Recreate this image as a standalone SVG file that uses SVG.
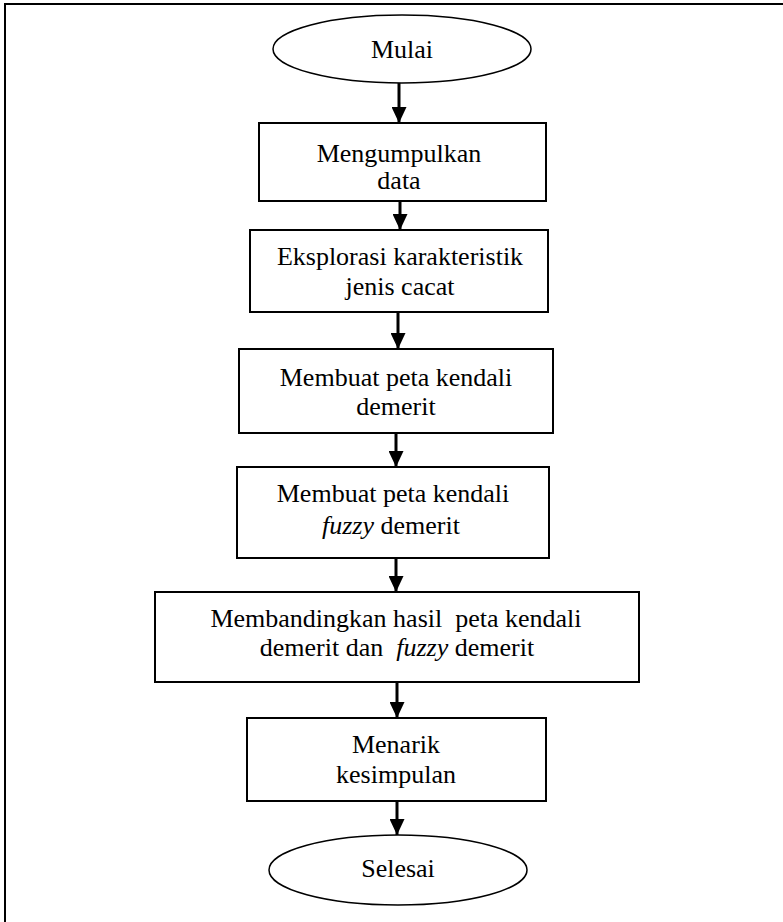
<svg xmlns="http://www.w3.org/2000/svg" width="783" height="922" viewBox="0 0 783 922">
<style>
.box{fill:#fff;stroke:#000;stroke-width:2}
.oval{fill:#fff;stroke:#000;stroke-width:1.5}
.t{font-family:'Liberation Serif','Times New Roman','DejaVu Serif',serif;font-size:26px;fill:#000;text-anchor:middle}
.i{font-style:italic}
.c{stroke:#000;stroke-width:3;fill:none}
</style>
<defs>
<marker id="ah" markerWidth="16" markerHeight="15" refX="16" refY="7.5" orient="auto" markerUnits="userSpaceOnUse">
<path d="M0,0 L16,7.5 L0,15 Z" fill="#000"/>
</marker>
</defs>
<rect x="0" y="0" width="783" height="922" fill="#fff"/>
<path d="M5,930 V4 H790" fill="none" stroke="#000" stroke-width="2"/>
<g id="connectors">
<line class="c" x1="399" y1="83" x2="399" y2="123" marker-end="url(#ah)"/>
<line class="c" x1="400" y1="201" x2="400" y2="230" marker-end="url(#ah)"/>
<line class="c" x1="398" y1="312" x2="398" y2="349" marker-end="url(#ah)"/>
<line class="c" x1="396" y1="433" x2="396" y2="467" marker-end="url(#ah)"/>
<line class="c" x1="396" y1="558" x2="396" y2="592" marker-end="url(#ah)"/>
<line class="c" x1="397" y1="682" x2="397" y2="718" marker-end="url(#ah)"/>
<line class="c" x1="397" y1="801" x2="397" y2="835" marker-end="url(#ah)"/>
</g>
<g id="mulai">
<ellipse class="oval" cx="402" cy="49" rx="129" ry="34"/>
<text class="t" x="402" y="58">Mulai</text>
</g>
<g id="mengumpulkan">
<rect class="box" x="259" y="123" width="287" height="78"/>
<text class="t" x="399" y="162">Mengumpulkan</text>
<text class="t" x="399" y="189">data</text>
</g>
<g id="eksplorasi">
<rect class="box" x="250" y="230" width="298" height="82"/>
<text class="t" x="400" y="265">Eksplorasi karakteristik</text>
<text class="t" x="400" y="295">jenis cacat</text>
</g>
<g id="peta-demerit">
<rect class="box" x="239" y="349" width="314" height="84"/>
<text class="t" x="396" y="386">Membuat peta kendali</text>
<text class="t" x="396" y="415">demerit</text>
</g>
<g id="peta-fuzzy">
<rect class="box" x="237" y="467" width="312" height="91"/>
<text class="t" x="393" y="502">Membuat peta kendali</text>
<text class="t" x="391" y="534"><tspan class="i">fuzzy</tspan> demerit</text>
</g>
<g id="membandingkan">
<rect class="box" x="155" y="592" width="484" height="90"/>
<text class="t" x="396" y="627" xml:space="preserve">Membandingkan hasil  peta kendali</text>
<text class="t" x="397" y="656" xml:space="preserve">demerit dan  <tspan class="i">fuzzy</tspan> demerit</text>
</g>
<g id="menarik">
<rect class="box" x="247" y="718" width="299" height="83"/>
<text class="t" x="396" y="753">Menarik</text>
<text class="t" x="396" y="783">kesimpulan</text>
</g>
<g id="selesai">
<ellipse class="oval" cx="398" cy="870" rx="129" ry="35"/>
<text class="t" x="398" y="877">Selesai</text>
</g>
</svg>
